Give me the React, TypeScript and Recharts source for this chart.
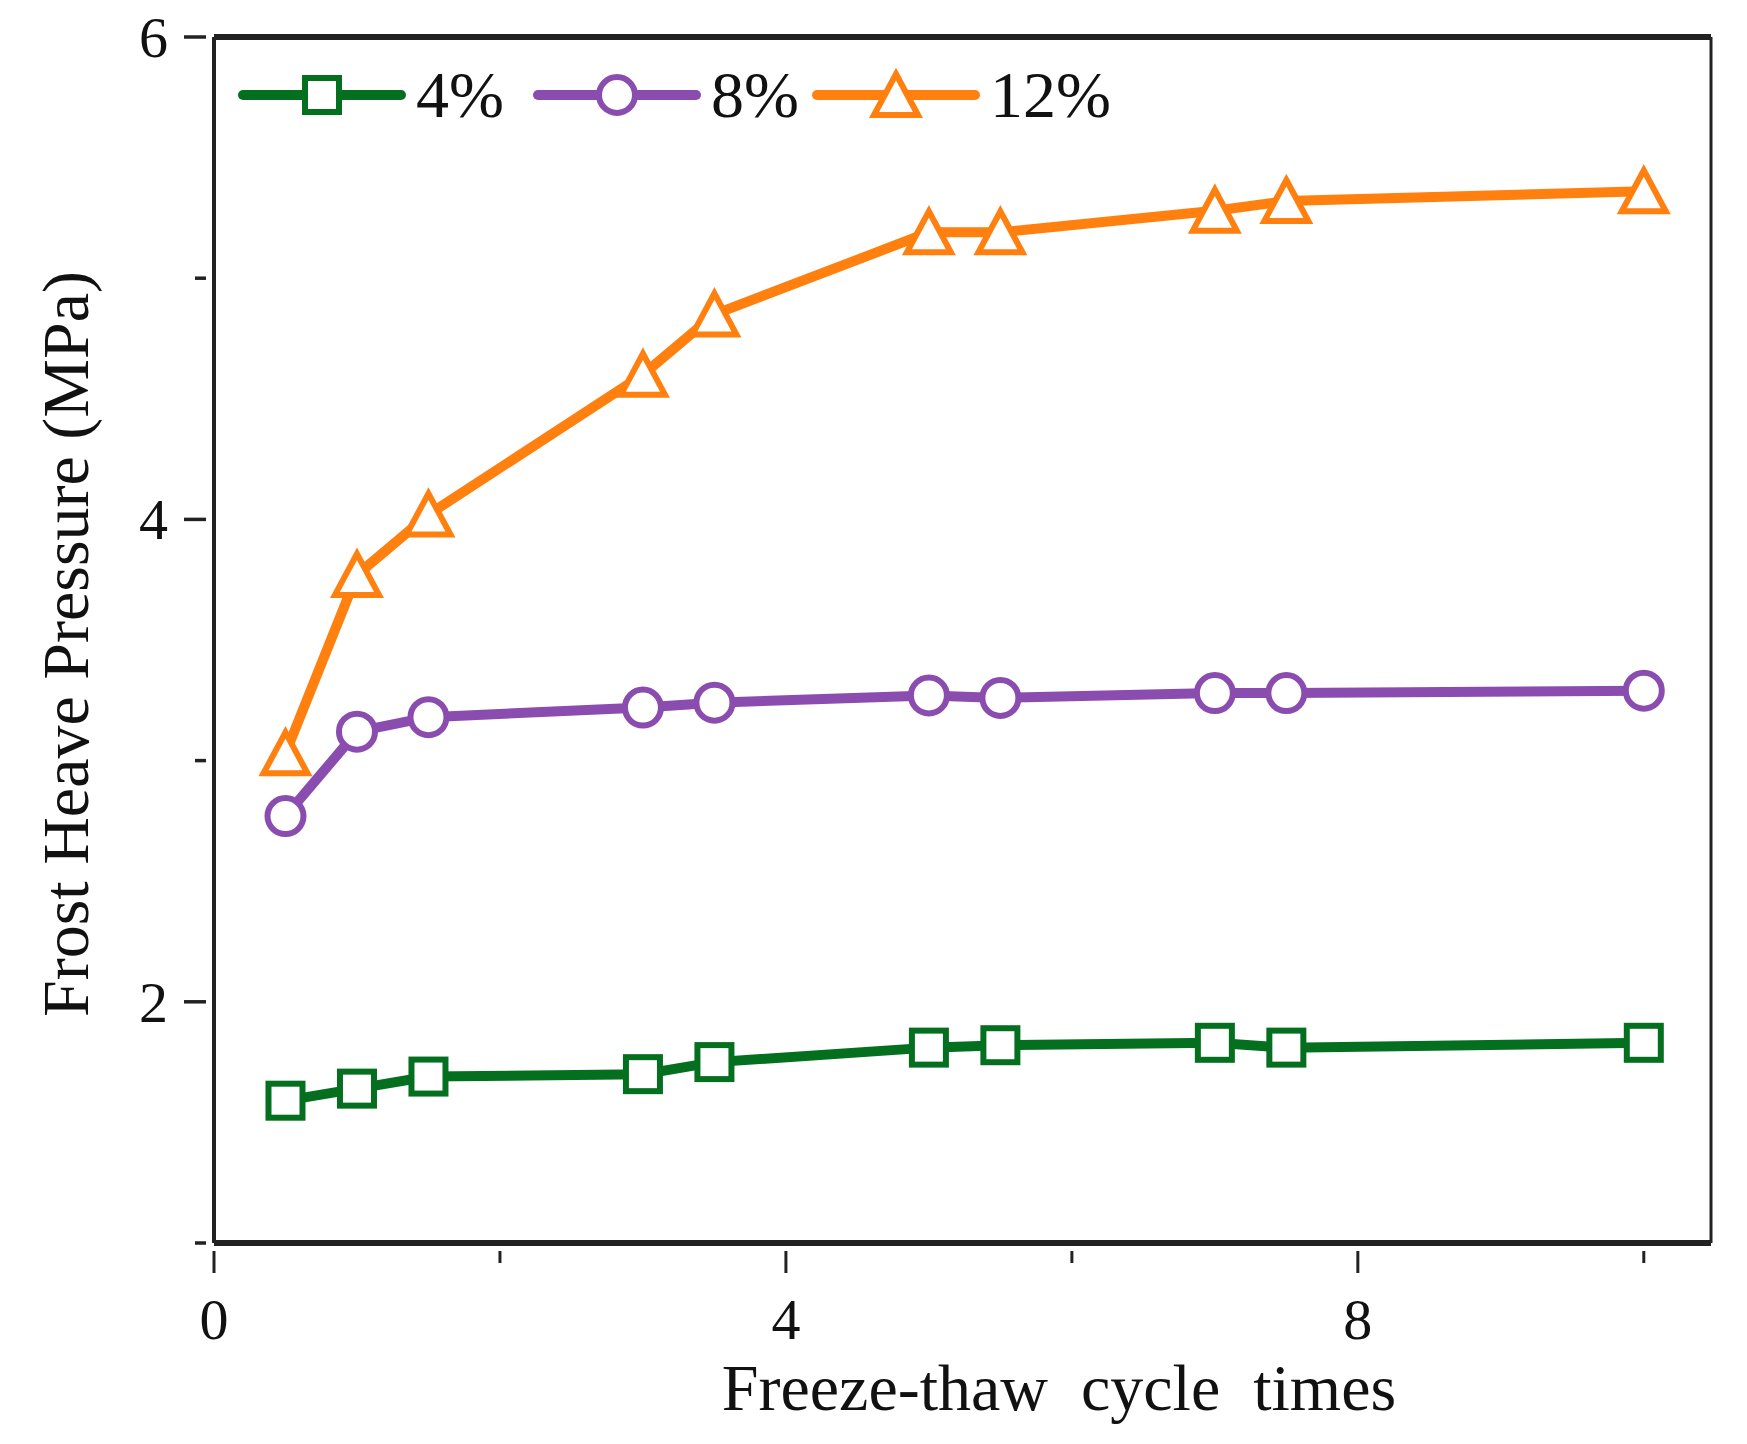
import { LineChart, Line, XAxis, YAxis, ReferenceLine } from 'recharts'

const cycles = [0.5, 1, 1.5, 3, 3.5, 5, 5.5, 7, 7.5, 10]
const p4 = [1.59, 1.64, 1.69, 1.7, 1.75, 1.81, 1.82, 1.83, 1.81, 1.83]
const p8 = [2.77, 3.12, 3.18, 3.22, 3.24, 3.27, 3.26, 3.28, 3.28, 3.29]
const p12 = [3.03, 3.77, 4.02, 4.6, 4.85, 5.19, 5.19, 5.28, 5.32, 5.36]

const xTicks = [0, 2, 4, 6, 8, 10]
const xLabelled = [0, 4, 8]
const yTicks = [1, 2, 3, 4, 5, 6]
const yLabelled = [2, 4, 6]
const X_MAX = 10.47

const GREEN = '#04701f'
const PURPLE = '#8a4daf'
const ORANGE = '#ff7f0f'
const FONT = '"Liberation Serif", "Times New Roman", serif'

const data = cycles.map((c, i) => ({ c, a: p4[i], b: p8[i], d: p12[i] }))

function Square({ cx, cy, size = 34 }: any) {
  return <rect x={cx - size / 2} y={cy - size / 2} width={size} height={size} fill="#fff" stroke={GREEN} strokeWidth={6} />
}
function Circ({ cx, cy }: any) {
  return <circle cx={cx} cy={cy} r={18} fill="#fff" stroke={PURPLE} strokeWidth={6} />
}
function Tri({ cx, cy }: any) {
  return <path d={`M${cx},${cy - 21} L${cx + 22},${cy + 20} L${cx - 22},${cy + 20} Z`} fill="#fff" stroke={ORANGE} strokeWidth={6} strokeLinejoin="miter" />
}

function XTick({ x, y, payload }: any) {
  const major = xLabelled.includes(payload.value)
  return (
    <g>
      <line x1={x} y1={y} x2={x} y2={y + (major ? 22 : 12)} stroke="#222" strokeWidth={3} />
      {major && (
        <text x={x} y={y + 88} textAnchor="middle" fontSize={58} fontFamily={FONT} fill="#111">
          {payload.value}
        </text>
      )}
    </g>
  )
}

function YTick({ x, y, payload }: any) {
  const major = yLabelled.includes(payload.value)
  return (
    <g>
      <line x1={x} y1={y} x2={x - (major ? 22 : 11)} y2={y} stroke="#222" strokeWidth={3.5} />
      {major && (
        <text x={x - 38} y={y + 20} textAnchor="end" fontSize={58} fontFamily={FONT} fill="#111">
          {payload.value}
        </text>
      )}
    </g>
  )
}

function LegendBox() {
  const items = [
    { x: 243, label: '4%', color: GREEN, m: 'sq' },
    { x: 538, label: '8%', color: PURPLE, m: 'ci' },
    { x: 817, label: '12%', color: ORANGE, m: 'tr' },
  ]
  return (
    <svg width={1747} height={200} style={{ position: 'absolute', left: 0, top: 0, pointerEvents: 'none' }}>
      {items.map((it) => {
        const cx = it.x + 79
        const cy = 95
        return (
          <g key={it.label}>
            <line x1={it.x} y1={cy} x2={it.x + 158} y2={cy} stroke={it.color} strokeWidth={10} strokeLinecap="round" />
            {it.m === 'sq' && <Square cx={cx} cy={cy} />}
            {it.m === 'ci' && <Circ cx={cx} cy={cy} />}
            {it.m === 'tr' && <Tri cx={cx} cy={cy} />}
            <text x={it.x + 173} y={cy + 22} fontSize={66} fontFamily={FONT} fill="#111">
              {it.label}
            </text>
          </g>
        )
      })}
    </svg>
  )
}

export default function App() {
  return (
    <div style={{ position: 'absolute', left: 0, top: 0, width: 1747, height: 1444, background: '#fff' }}>
      <LineChart width={1747} height={1444} data={data} margin={{ top: 37, right: 36, left: 64, bottom: 101 }}>
        <XAxis
          dataKey="c"
          type="number"
          domain={[0, X_MAX]}
          ticks={xTicks}
          height={100}
          tick={<XTick />}
          tickLine={false}
          axisLine={{ stroke: '#222', strokeWidth: 6 }}
          label={{
            content: () => (
              <text x={1059} y={1410} textAnchor="middle" fontSize={66} fontFamily={FONT} fill="#111">
                {'Freeze-thaw\u00a0 cycle\u00a0 times'}
              </text>
            ),
          }}
        />
        <YAxis
          type="number"
          domain={[1, 6]}
          ticks={yTicks}
          width={150}
          tick={<YTick />}
          tickLine={false}
          axisLine={{ stroke: '#222', strokeWidth: 4 }}
          label={{
            content: () => (
              <text x={88} y={644} transform="rotate(-90, 88, 644)" textAnchor="middle" fontSize={66} fontFamily={FONT} fill="#111">
                Frost Heave Pressure (MPa)
              </text>
            ),
          }}
        />
        <ReferenceLine y={6} stroke="#222" strokeWidth={6} />
        <ReferenceLine x={X_MAX} stroke="#222" strokeWidth={3} />
        <Line
          dataKey="a"
          stroke={GREEN}
          strokeWidth={10}
          isAnimationActive={false}
          dot={(p: any) => <Square key={`a${p.index}`} cx={p.cx} cy={p.cy} />}
        />
        <Line
          dataKey="b"
          stroke={PURPLE}
          strokeWidth={10}
          isAnimationActive={false}
          dot={(p: any) => <Circ key={`b${p.index}`} cx={p.cx} cy={p.cy} />}
        />
        <Line
          dataKey="d"
          stroke={ORANGE}
          strokeWidth={10}
          isAnimationActive={false}
          dot={(p: any) => <Tri key={`d${p.index}`} cx={p.cx} cy={p.cy} />}
        />
      </LineChart>
      <LegendBox />
    </div>
  )
}
